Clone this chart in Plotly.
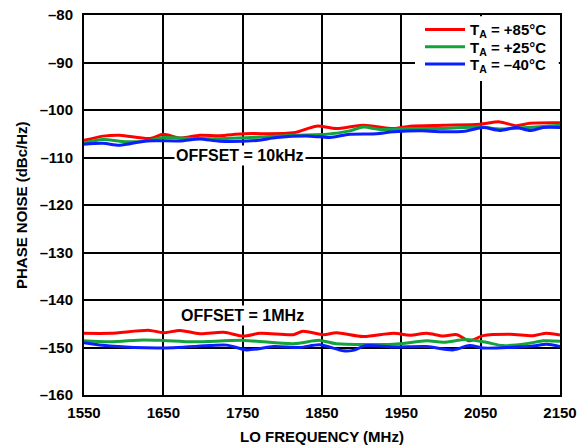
import plotly.graph_objects as go

# ---- data ----
hi_red_x = [1550, 1574, 1595, 1633, 1650, 1671, 1696, 1721, 1751, 1814, 1843, 1868, 1902, 1940, 1961, 2003, 2049, 2074, 2095, 2112, 2150]
hi_red_y = [-106.4, -105.5, -105.3, -106.0, -105.1, -105.9, -105.3, -105.4, -105.0, -104.8, -103.4, -103.9, -103.2, -103.9, -103.4, -103.2, -103.0, -102.5, -103.3, -102.8, -102.7]

hi_grn_x = [1550, 1574, 1604, 1629, 1650, 1688, 1730, 1772, 1814, 1856, 1885, 1902, 1923, 1961, 2003, 2049, 2074, 2108, 2150]
hi_grn_y = [-106.9, -106.2, -106.7, -106.5, -105.8, -106.0, -106.0, -105.7, -105.3, -105.1, -104.4, -103.6, -104.1, -103.9, -103.9, -103.6, -104.0, -103.7, -103.2]

hi_blu_x = [1550, 1574, 1595, 1629, 1671, 1696, 1721, 1768, 1793, 1835, 1860, 1885, 1919, 1940, 1982, 2003, 2032, 2053, 2074, 2095, 2112, 2129, 2150]
hi_blu_y = [-107.2, -107.0, -107.4, -106.5, -106.5, -106.1, -106.6, -106.4, -105.8, -105.5, -105.8, -105.1, -105.0, -104.6, -104.4, -104.6, -104.4, -103.7, -104.3, -103.7, -104.3, -103.7, -103.7]

lo_red_x = [1550, 1583, 1633, 1650, 1671, 1696, 1726, 1751, 1772, 1814, 1826, 1852, 1868, 1902, 1940, 1961, 1982, 2003, 2020, 2036, 2053, 2087, 2116, 2133, 2150]
lo_red_y = [-147.0, -147.0, -146.4, -146.9, -146.4, -147.1, -146.8, -147.6, -147.0, -147.3, -146.6, -147.3, -146.9, -147.7, -147.0, -147.4, -147.0, -147.6, -147.3, -148.6, -147.5, -147.2, -147.5, -147.0, -147.4]

lo_grn_x = [1550, 1583, 1625, 1650, 1688, 1751, 1814, 1847, 1868, 1940, 1982, 2003, 2032, 2057, 2078, 2108, 2129, 2150]
lo_grn_y = [-148.6, -148.8, -148.4, -148.5, -148.8, -148.5, -149.2, -148.5, -149.2, -149.3, -148.6, -148.9, -148.3, -148.9, -149.6, -149.2, -148.6, -148.7]

lo_blu_x = [1550, 1583, 1646, 1709, 1730, 1755, 1789, 1822, 1847, 1877, 1889, 1906, 1940, 1982, 2015, 2036, 2053, 2087, 2116, 2133, 2150]
lo_blu_y = [-149.0, -149.7, -150.1, -149.6, -149.5, -150.5, -149.8, -150.0, -149.4, -150.7, -150.6, -149.6, -149.9, -149.8, -150.5, -149.6, -150.1, -150.0, -149.7, -149.3, -149.8]

legend_names = ["T<sub>A</sub> = +85°C", "T<sub>A</sub> = +25°C", "T<sub>A</sub> = –40°C"]
colors = ["#ff0000", "#12a33c", "#0a1eff"]

x_ticks = [1550, 1650, 1750, 1850, 1950, 2050, 2150]
y_ticks = [-160, -150, -140, -130, -120, -110, -100, -90, -80]
y_ticktext = ["–" + str(abs(v)) for v in y_ticks]

FONT = "Liberation Sans, Arial, sans-serif"
BOLD = dict(family=FONT, color="black", weight="bold")

PL, PR, PT, PB = 84, 24, 15, 52
W, H = 584, 447
pw, ph = W - PL - PR, H - PT - PB

def px_x(p):  # pixel x -> paper
    return (p - PL) / pw

def px_y(p):  # pixel y -> paper
    return (H - PB - p) / ph

legend_ids = ["legend", "legend2", "legend3"]
legend_rows = [29.7, 47.0, 64.3]

fig = go.Figure()
series = [
    (hi_red_x, hi_red_y, 0, True), (hi_grn_x, hi_grn_y, 1, True), (hi_blu_x, hi_blu_y, 2, True),
    (lo_red_x, lo_red_y, 0, False), (lo_grn_x, lo_grn_y, 1, False), (lo_blu_x, lo_blu_y, 2, False),
]
for xs, ys, ci, show in series:
    fig.add_trace(go.Scatter(
        x=xs, y=ys, mode="lines", line=dict(color=colors[ci], width=3, shape="spline", smoothing=0.8),
        name=legend_names[ci], showlegend=show, legend=legend_ids[ci]))

# white backing behind the legend (hides grid lines there, keeps the frame)
fig.add_shape(type="rect", xref="paper", yref="paper", x0=px_x(415), x1=px_x(558.8), y0=px_y(81), y1=px_y(16.2),
              fillcolor="white", line=dict(width=0), layer="above")

fig.add_annotation(x=1747, y=-109.6, text="OFFSET = 10kHz", showarrow=False,
                   bgcolor="white", font=dict(size=16, **BOLD), borderpad=1)
fig.add_annotation(x=1750, y=-143.2, text="OFFSET = 1MHz", showarrow=False,
                   bgcolor="white", font=dict(size=16, **BOLD), borderpad=1)

# axis titles
fig.add_annotation(x=0.5, xref="paper", y=px_y(437), yref="paper", xanchor="center", yanchor="middle",
                   text="LO FREQUENCY (MHz)", showarrow=False, font=dict(size=15, **BOLD))
fig.add_annotation(x=px_x(21), xref="paper", y=0.5, yref="paper", xanchor="center", yanchor="middle",
                   text="PHASE NOISE (dBc/Hz)", textangle=-90, showarrow=False, font=dict(size=15, **BOLD))

legend_common = dict(xanchor="left", yanchor="middle", bgcolor="rgba(0,0,0,0)",
                     font=dict(size=15, **BOLD), itemwidth=40)
fig.update_layout(
    width=W, height=H,
    margin=dict(l=PL, r=PR, t=PT, b=PB),
    paper_bgcolor="white", plot_bgcolor="white",
    font=dict(family=FONT, size=15, color="black"),
    legend=dict(x=px_x(420), y=px_y(legend_rows[0]), **legend_common),
    legend2=dict(x=px_x(420), y=px_y(legend_rows[1]), **legend_common),
    legend3=dict(x=px_x(420), y=px_y(legend_rows[2]), **legend_common),
    xaxis=dict(range=[1550, 2150], tickvals=x_ticks, ticktext=[str(v) for v in x_ticks],
               tickfont=dict(size=15, **BOLD), automargin=False,
               showgrid=True, gridcolor="black", gridwidth=1.5,
               showline=True, linecolor="black", linewidth=2, mirror=True, zeroline=False,
               ticks="", ticklabelstandoff=3),
    yaxis=dict(range=[-160, -80], tickvals=y_ticks, ticktext=y_ticktext,
               tickfont=dict(size=15, **BOLD), automargin=False,
               showgrid=True, gridcolor="black", gridwidth=1.5,
               showline=True, linecolor="black", linewidth=2, mirror=True, zeroline=False,
               ticks="", ticklabelstandoff=6),
)

fig.write_html("out.html", config={"displayModeBar": False},
               post_script="document.body.style.margin='0';document.body.style.overflow='hidden';")
